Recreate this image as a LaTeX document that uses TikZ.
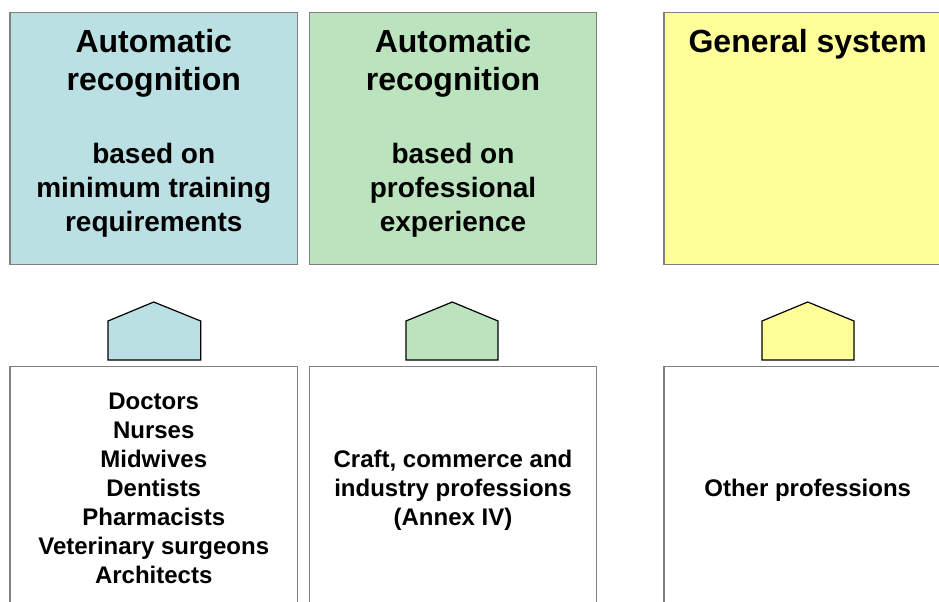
\documentclass[tikz,border=0pt]{standalone}
\usepackage{fontspec}
\setmainfont{Liberation Sans}
\definecolor{cblue}{RGB}{187,224,227}
\definecolor{cgreen}{RGB}{187,228,190}
\definecolor{cyellow}{RGB}{255,255,153}
\definecolor{cgray}{RGB}{128,128,128}
\tikzset{
  panel/.style={draw=cgray, line width=0.8pt, rectangle, minimum width=215.6pt, minimum height=189pt, inner sep=0pt, outer sep=0pt},
  house/.style={draw=black, line width=0.9pt, line join=miter},
  titletext/.style={anchor=base, align=center, inner sep=0pt, font=\fontsize{24pt}{28.5pt}\selectfont\bfseries},
  subtext/.style={anchor=base, align=center, inner sep=0pt, font=\fontsize{21pt}{25.5pt}\selectfont\bfseries},
  listtext/.style={anchor=base, align=center, inner sep=0pt, font=\fontsize{18pt}{21.75pt}\selectfont\bfseries},
}
\begin{document}
\begin{tikzpicture}[x=0.75pt,y=-0.75pt]
\useasboundingbox (0,0) rectangle (939,601);
\clip (0,0) rectangle (939,601);
\fill[white] (0,0) rectangle (939,601);
% top panels
\node[panel, fill=cblue]   (top1) at (153.75,138.5) {};
\node[panel, fill=cgreen]  (top2) at (453,138.5) {};
\node[panel, fill=cyellow] (top3) at (807.75,138.5) {};
% bottom panels
\node[panel, fill=white] (bot1) at (153.75,492.5) {};
\node[panel, fill=white] (bot2) at (453,492.5) {};
\node[panel, fill=white] (bot3) at (807.75,492.5) {};
% texts (anchor = baseline of the last line)
\node[titletext] (t1a) at (153.75,90.5) {Automatic\\recognition};
\node[subtext]   (t1b) at (153.75,231.5) {based on\\minimum training\\requirements};
\node[titletext] (t2a) at (453,90.5) {Automatic\\recognition};
\node[subtext]   (t2b) at (453,231.5) {based on\\professional\\experience};
\node[titletext] (t3a) at (807.75,52.5) {General system};
\node[listtext] (b1) at (153.75,583.3) {Doctors\\Nurses\\Midwives\\Dentists\\Pharmacists\\Veterinary surgeons\\Architects};
\node[listtext] (b2) at (453,525.3) {Craft, commerce and\\industry professions\\(Annex IV)};
\node[listtext] (b3) at (807.75,496.3) {Other professions};
% house-shaped pointers
\draw[house, fill=cblue]   (108,360) -- (108,321) -- (153.7,302) -- (200.7,321) -- (200.7,360) -- cycle;
\draw[house, fill=cgreen]  (406,360) -- (406,321) -- (452.3,302) -- (498,321) -- (498,360) -- cycle;
\draw[house, fill=cyellow] (762,360) -- (762,321) -- (807.7,302) -- (854,321) -- (854,360) -- cycle;
\end{tikzpicture}
\end{document}
